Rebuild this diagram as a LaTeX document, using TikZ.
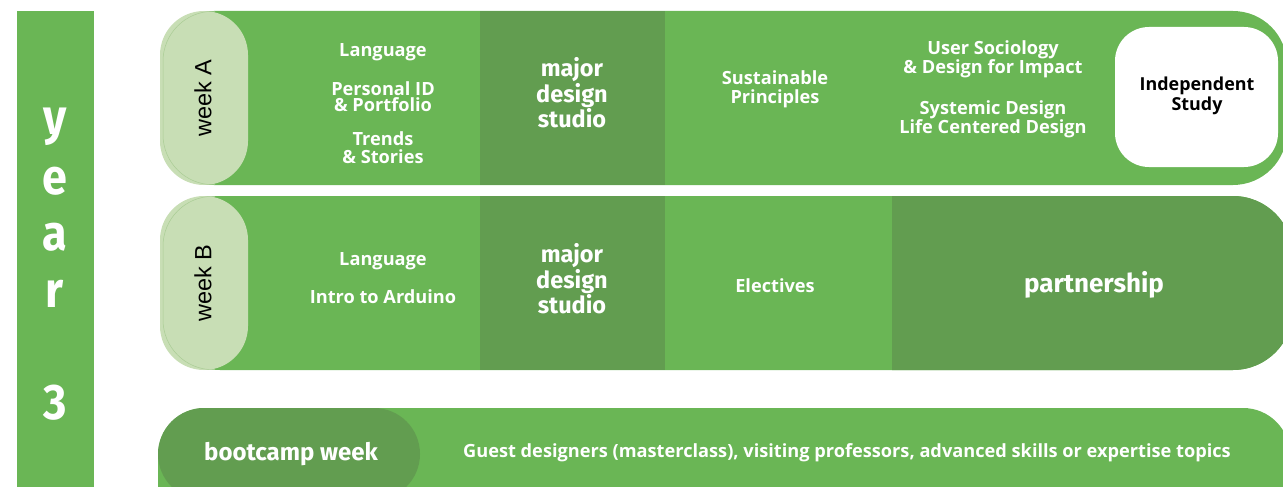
\documentclass[tikz,border=0pt]{standalone}
\usepackage{fontspec}
\setmainfont{Open Sans}
\newfontfamily\dispfont{Fira Sans}
\newfontfamily\weekfont{Liberation Sans}
\definecolor{gmain}{HTML}{6AB655}
\definecolor{gdark}{HTML}{629D50}
\definecolor{glight}{HTML}{C8DEB5}
\definecolor{gfaint}{HTML}{A9CC94}
\tikzset{
  body/.style={text=white, font=\fontsize{18.2}{16}\selectfont\bfseries, align=center, inner sep=0pt},
  disp/.style={text=white, font=\dispfont\fontsize{23.5}{25.5}\selectfont\bfseries, align=center, inner sep=0pt},
  weeklbl/.style={text=black, font=\weekfont\fontsize{23.5}{23.5}\selectfont, rotate=90, inner sep=0pt},
  yearlbl/.style={text=white, font=\dispfont\fontsize{50}{50}\selectfont\bfseries, inner sep=0pt}
}
\begin{document}
\begin{tikzpicture}[x=1pt,y=-1pt]
\useasboundingbox (0,0) rectangle (1283,487);
\clip (0,0) rectangle (1283,487);
% year bar
\fill[gmain] (17,11) rectangle (94,500);
\node[yearlbl] (ly) at (55,127) {\scalebox{0.9}[1]{y}};
\node[yearlbl] (le) at (55,181) {\scalebox{0.9}[1]{e}};
\node[yearlbl] (la) at (55,237) {\scalebox{0.9}[1]{a}};
\node[yearlbl] (lr) at (55,294) {\scalebox{0.9}[1]{r}};
\node[yearlbl] (l3) at (55,403) {\scalebox{0.9}[1]{3}};
% row A
\fill[gmain, rounded corners=54] (160,11) rectangle (1287,185);
\fill[gdark] (480,11) rectangle (665,185);
\fill[glight, rounded corners=44] (160,11) rectangle (248,185);
\draw[gfaint, line width=0.5pt, rounded corners=50] (215,11.3) -- (163,11.3) -- (163,184.7) -- (215,184.7);
\fill[white, rounded corners=34] (1115,27) rectangle (1278,167);
% row B
\fill[gmain, rounded corners=60] (160,196) rectangle (1293,370);
\fill[gdark] (480,196) rectangle (665,370);
\begin{scope}
\clip (892,190) rectangle (1300,380);
\fill[gdark, rounded corners=60] (800,196) rectangle (1293,370);
\end{scope}
\fill[glight, rounded corners=44] (160,196) rectangle (248,370);
\draw[gfaint, line width=0.5pt, rounded corners=50] (215,196.3) -- (163,196.3) -- (163,369.7) -- (215,369.7);
% bootcamp row
\fill[gmain, rounded corners=47] (158,408) rectangle (1290,530);
\fill[gdark, rounded corners=46] (158,408) rectangle (420,500);
% texts row A
\node[weeklbl] (wA) at (203,98) {week A};
\node[body] (langA) at (383,52) {Language};
\node[body] (pidA) at (383,96.5) {Personal ID\\\& Portfolio};
\node[body, font=\fontsize{18.2}{18}\selectfont\bfseries] (trA) at (383,148) {Trends\\\& Stories};
\node[disp] (mdsA) at (572,93) {major\\design\\studio};
\node[body, font=\fontsize{18.2}{19}\selectfont\bfseries] (susA) at (775,89.5) {Sustainable\\Principles};
\node[body, font=\fontsize{18.2}{17}\selectfont\bfseries] (usA) at (993,59.5) {User Sociology\\\& Design for Impact};
\node[body] (sdA) at (993,119) {Systemic Design\\Life Centered Design};
\node[body, text=black, font=\fontsize{17.9}{20}\selectfont\bfseries] (isA) at (1197,96) {Independent\\Study};
% texts row B
\node[weeklbl] (wB) at (203,283) {week B};
\node[body] (langB) at (383,261) {Language};
\node[body] (ardB) at (383,297) {Intro to Arduino};
\node[disp] (mdsB) at (572,279) {major\\design\\studio};
\node[body] (elB) at (775,286) {Electives};
\node[disp, font=\dispfont\fontsize{26}{26}\selectfont\bfseries] (parB) at (1094,285) {partnership};
% bootcamp texts
\node[disp, font=\dispfont\fontsize{24}{24}\selectfont\bfseries] (boot) at (291,454) {bootcamp week};
\node[body] (guest) at (847,453) {Guest designers (masterclass), visiting professors, advanced skills or expertise topics};
\end{tikzpicture}
\end{document}
